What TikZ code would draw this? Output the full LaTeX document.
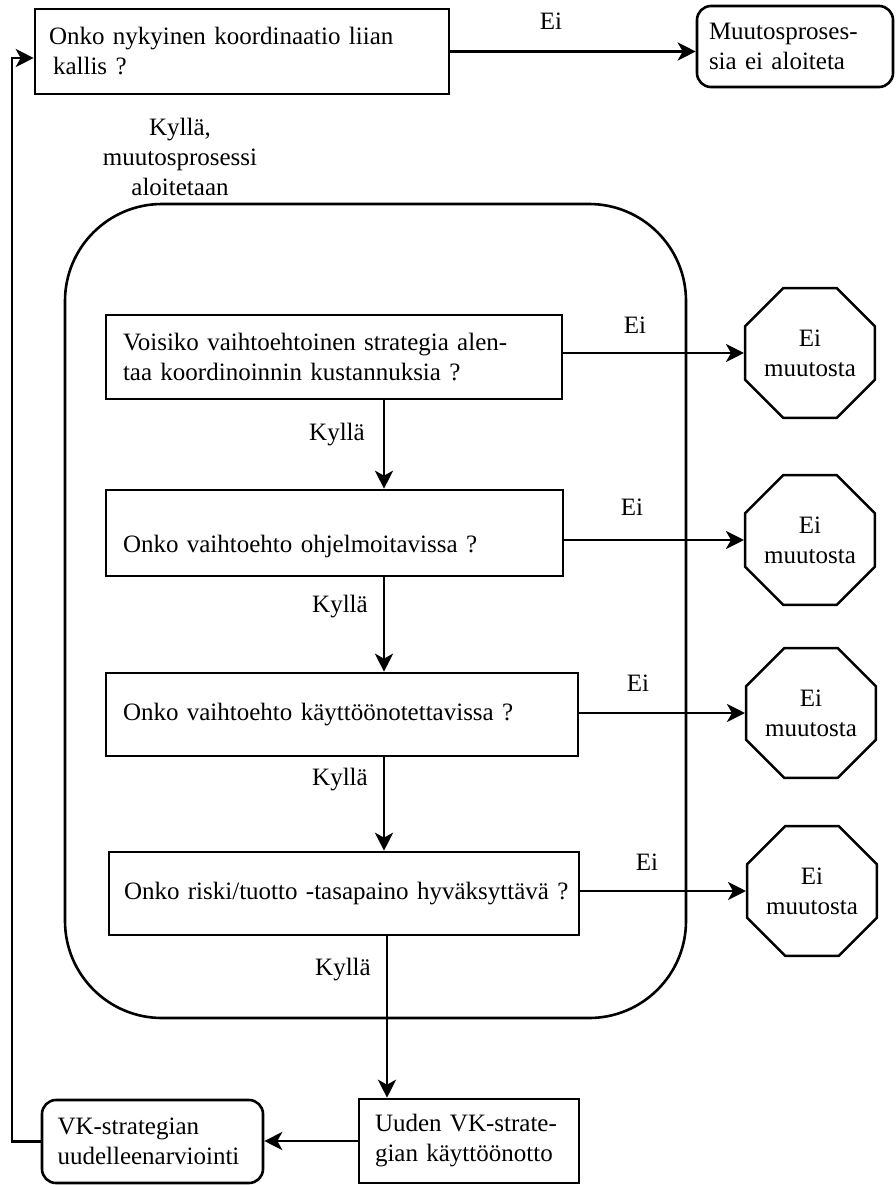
\documentclass[tikz,border=0pt]{standalone}
\usepackage{fontspec}
\setmainfont{Liberation Serif}
\usetikzlibrary{arrows.meta,shapes.geometric}
\tikzset{
  every node/.style={font=\fontsize{25pt}{30pt}\selectfont},
  box/.style={draw, line width=2.6pt, inner ysep=0pt, align=left},
  rbox/.style={box, rounded corners=14pt},
  octo/.style={draw, line width=2.4pt, regular polygon, regular polygon sides=8,
    minimum size=121pt, inner sep=0pt, align=center},
  arr/.style={line width=2.6pt, -{Stealth[length=18pt,width=18pt,inset=5pt]}},
  lbl/.style={inner sep=0pt, align=center}
}
\begin{document}
\begin{tikzpicture}[x=1pt,y=-1pt]
\useasboundingbox (0,0) rectangle (896,1185);
% container
\node[draw, line width=2.6pt, rounded corners=97pt, minimum width=621pt, minimum height=814pt, inner sep=0pt] (frame) at (375.5,611) {};
% top boxes
\node[box, minimum width=414pt, minimum height=85pt, text width=386pt, inner xsep=14pt] (q0) at (242,51.5)
  {Onko nykyinen koordinaatio liian\\\hspace*{4pt}kallis ?};
\node[rbox, minimum width=196pt, minimum height=81pt, text width=172pt, inner xsep=12pt] (end) at (795,46.5)
  {Muutosproses-\\sia ei aloiteta};
% decision boxes
\node[box, minimum width=456pt, minimum height=84pt, text width=422pt, inner xsep=17pt] (q1) at (334,357)
  {Voisiko vaihtoehtoinen strategia alen-\\taa koordinoinnin kustannuksia ?};
\node[box, minimum width=457pt, minimum height=86pt, text width=423pt, inner xsep=17pt, text height=62pt, text depth=24pt] (q2) at (334.5,533)
  {Onko vaihtoehto ohjelmoitavissa ?};
\node[box, minimum width=472pt, minimum height=83pt, text width=438pt, inner xsep=17pt] (q3) at (342,714.5)
  {Onko vaihtoehto käyttöönotettavissa ?};
\node[box, minimum width=470pt, minimum height=83pt, text width=454pt, inner xsep=8pt] (q4) at (344,893.5)
  {\hspace*{7pt}Onko riski/tuotto -tasapaino hyväksyttävä ?};
% octagons
\node[octo] (o1) at (810,353) {Ei\\muutosta};
\node[octo] (o2) at (810,540) {Ei\\muutosta};
\node[octo] (o3) at (811,713) {Ei\\muutosta};
\node[octo] (o4) at (812,891) {Ei\\muutosta};
% bottom boxes
\node[box, minimum width=220pt, minimum height=84pt, text width=188pt, inner xsep=16pt] (b6) at (469,1141)
  {Uuden VK-strate-\\gian käyttöönotto};
\node[rbox, minimum width=221pt, minimum height=83pt, text width=190pt, inner xsep=15.5pt] (b5) at (152.5,1141.5)
  {VK-strategian\\uudelleenarviointi};
% helper coordinates
\coordinate (sp) at (384,0);
\coordinate (sp2) at (387,0);
\coordinate (lp) at (12,58);
% connectors
\draw[arr] (q0.east) -- (q0.east -| end.west);
\draw[arr] (o1.west -| q1.east) -- (o1.west);
\draw[arr] (o2.west -| q2.east) -- (o2.west);
\draw[arr] (o3.west -| q3.east) -- (o3.west);
\draw[arr] (o4.west -| q4.east) -- (o4.west);
\draw[arr] (q1.south -| sp) -- (q2.north -| sp);
\draw[arr] (q2.south -| sp) -- (q3.north -| sp);
\draw[arr] (q3.south -| sp) -- (q4.north -| sp);
\draw[arr] (q4.south -| sp2) -- (b6.north -| sp2);
\draw[arr] (b6.west) -- (b6.west -| b5.east);
\draw[arr] (b5.west) -| (lp) -- (lp -| q0.west);
% labels
\node[lbl] (l0) at (551,21) {Ei};
\node[lbl] (lk0) at (180,157) {Kyllä,\\muutosprosessi\\aloitetaan};
\node[lbl] (le1) at (635,325) {Ei};
\node[lbl] (le2) at (632,507) {Ei};
\node[lbl] (le3) at (638,683) {Ei};
\node[lbl] (le4) at (647,862) {Ei};
\node[lbl] (lk1) at (337,435) {Kyllä};
\node[lbl] (lk2) at (340,607) {Kyllä};
\node[lbl] (lk3) at (340,780) {Kyllä};
\node[lbl] (lk4) at (343,970) {Kyllä};
\end{tikzpicture}
\end{document}
